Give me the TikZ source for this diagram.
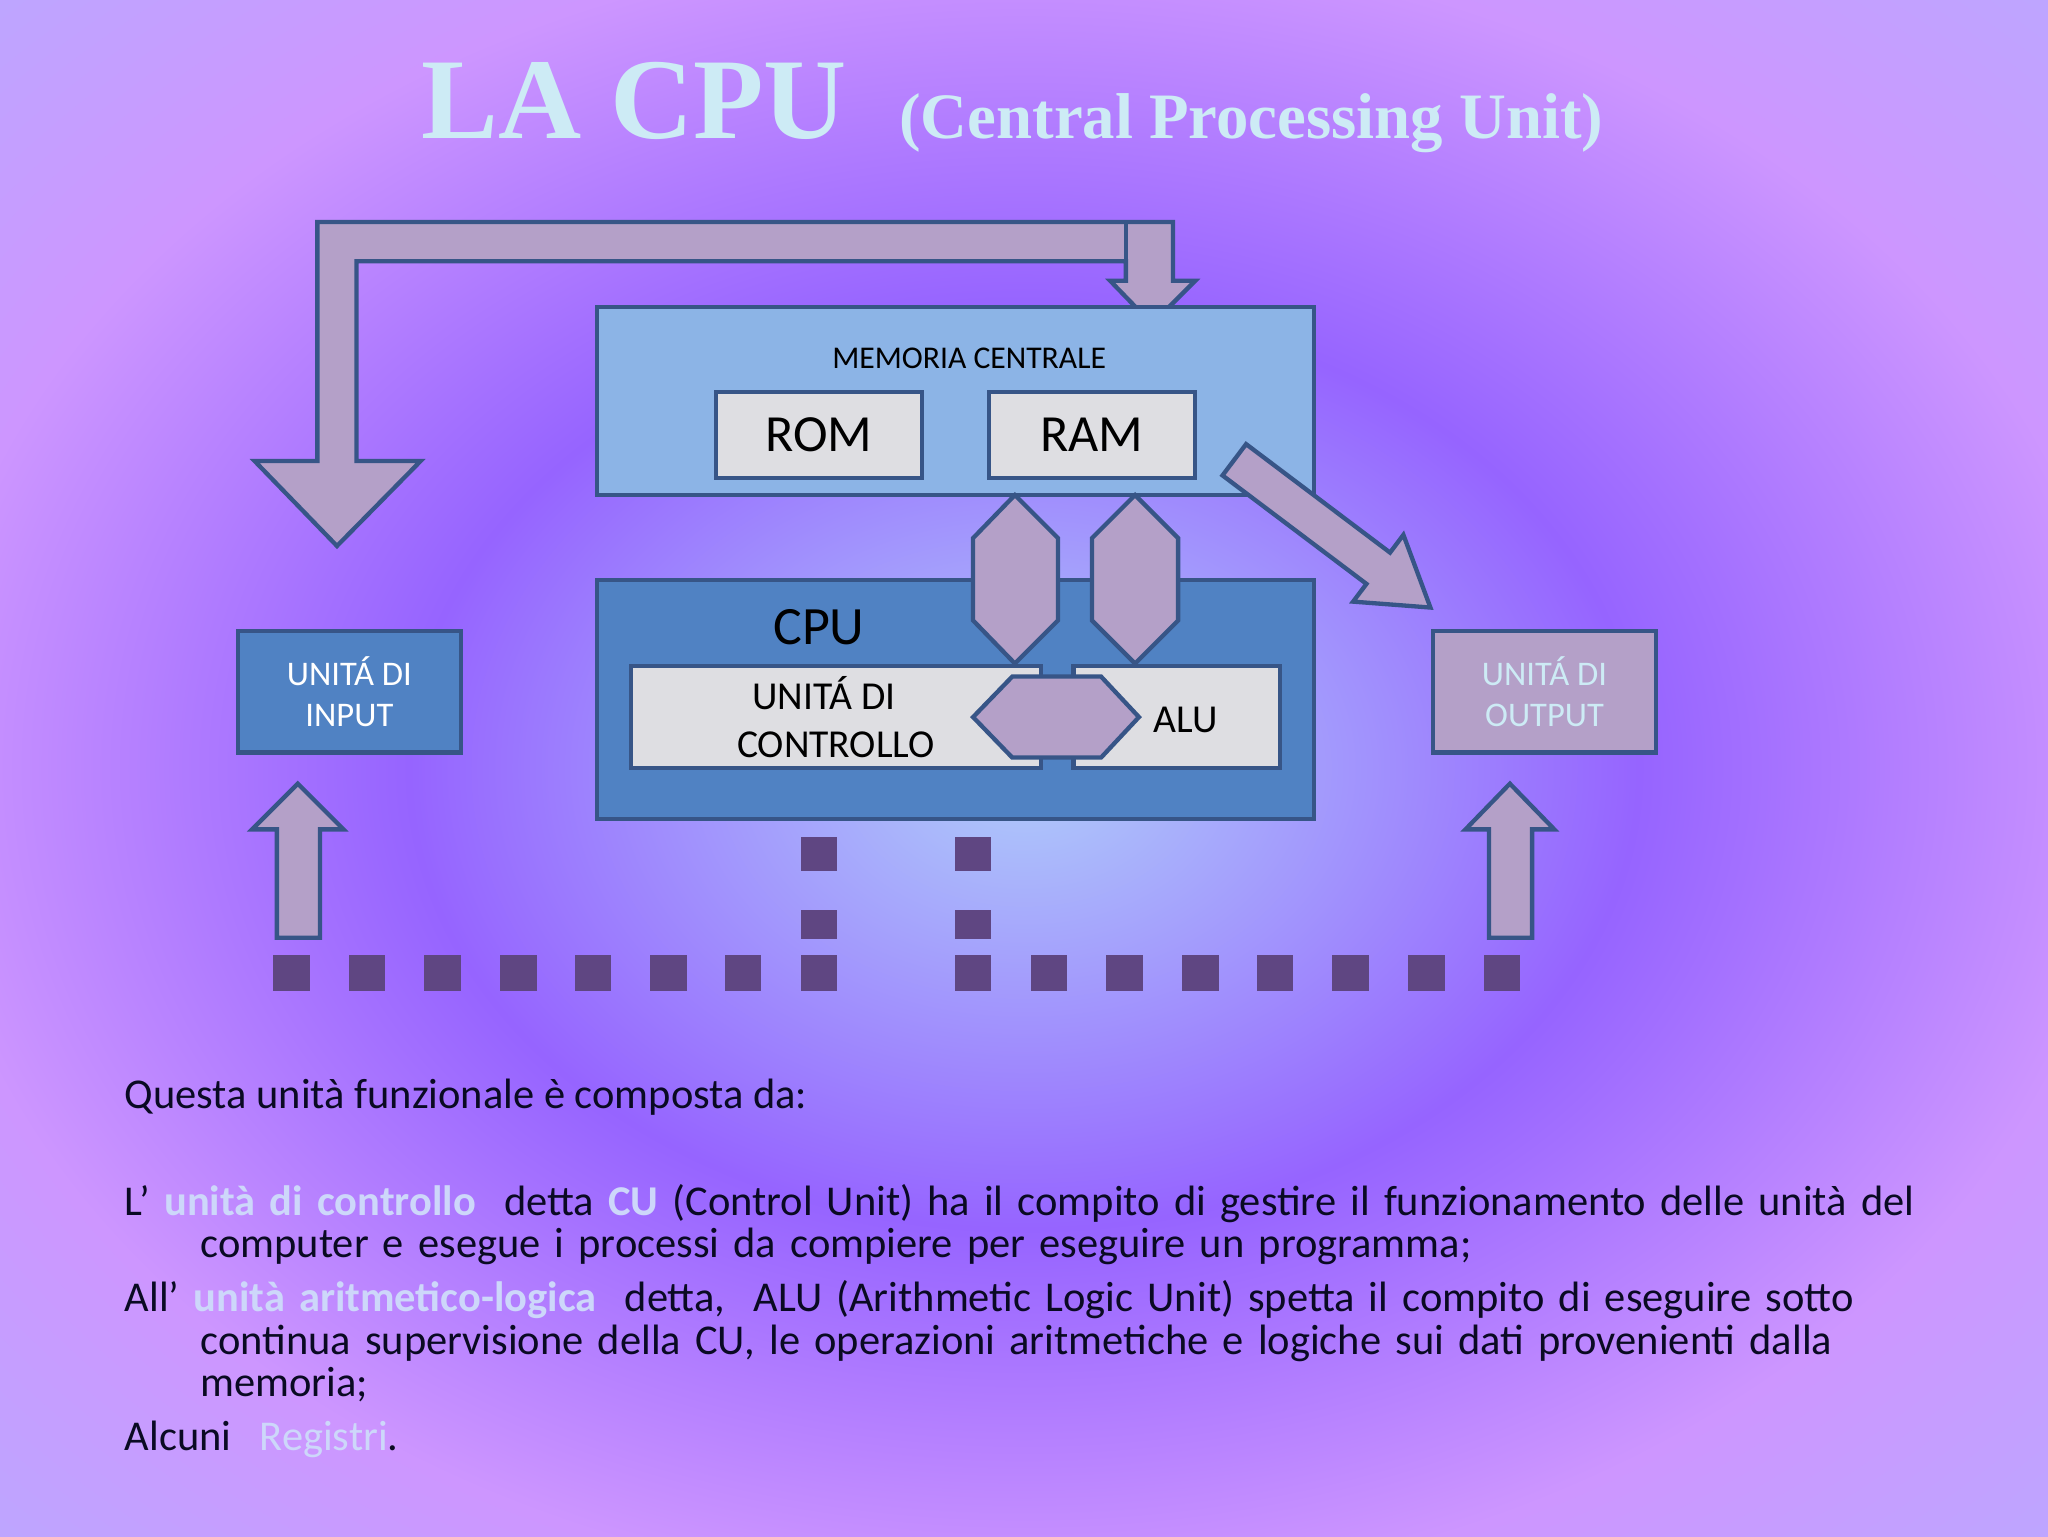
\documentclass[tikz,border=0pt]{standalone}
\usepackage{fontspec}
\setmainfont{Carlito}
\newfontfamily\titlefont{Liberation Serif}
\usetikzlibrary{positioning,shapes}
\definecolor{bgcenter}{RGB}{175,205,250}
\definecolor{bgviolet}{RGB}{150,100,255}
\definecolor{bgpink}{RGB}{205,150,255}
\definecolor{bgedge}{RGB}{150,205,255}
\definecolor{memfill}{RGB}{140,180,230}
\definecolor{cpufill}{RGB}{80,130,195}
\definecolor{edgeblue}{RGB}{55,85,135}
\definecolor{greyfill}{RGB}{222,222,226}
\definecolor{lav}{RGB}{180,160,200}
\definecolor{dots}{RGB}{95,70,130}
\definecolor{titlecol}{RGB}{205,235,245}
\definecolor{hilite}{RGB}{205,215,250}
\definecolor{bodytext}{RGB}{10,10,35}
\pgfdeclareradialshading{slidebg}{\pgfpoint{0bp}{0bp}}{%
  color(0bp)=(bgcenter); color(6bp)=(bgcenter!60!bgviolet);
  color(15bp)=(bgviolet); color(27bp)=(bgpink); color(36bp)=(bgpink!70!bgedge);
  color(46bp)=(bgedge); color(75bp)=(bgedge)}
\newcommand{\uu}[1]{#1*0.01276cm}
\tikzstyle{box} = [rectangle, draw=edgeblue, line width=1.2pt, inner sep=0pt]
\tikzstyle{arr} = [draw=edgeblue, line width=1.2pt, fill=lav, line join=miter]
\tikzstyle{dot} = [fill=dots]

\begin{document}
\begin{tikzpicture}[x=0.01276cm,y=-0.01276cm]
  \useasboundingbox (0,0) rectangle (1568,1176);
  \shade[shading=slidebg] (0,0) rectangle (1568,1176);

  % title
  \node[anchor=base west,text=titlecol,inner sep=0pt] (title) at (322,106)
    {\titlefont\fontsize{32}{34}\selectfont\bfseries LA CPU};
  \node[anchor=base west,text=titlecol,inner sep=0pt] (subtitle) at (688,106)
    {\titlefont\fontsize{18}{22}\selectfont\bfseries (Central Processing Unit)};

  % feedback arrow
  \draw[arr] (243,170) -- (898,170) -- (898,215) -- (915,215) -- (882,248)
    -- (850,215) -- (862,215) -- (862,200) -- (273,200) -- (273,353)
    -- (322,353) -- (258,418) -- (195,353) -- (243,353) -- cycle;
  \draw[edgeblue,line width=1.2pt] (862,170) -- (862,200);

  % boxes
  \node[box,fill=memfill,minimum width=\uu{549},minimum height=\uu{144}] (mem) at (731.5,307) {};
  \node[font=\fontsize{8.8}{10}\selectfont] (memlabel) at (742,274) {MEMORIA CENTRALE};
  \node[box,fill=greyfill,minimum width=\uu{158},minimum height=\uu{66},font=\fontsize{14.5}{16}\selectfont] (rom) at (627,333) {ROM};
  \node[box,fill=greyfill,minimum width=\uu{158},minimum height=\uu{66},font=\fontsize{14.5}{16}\selectfont] (ram) at (836,333) {RAM};

  \node[box,fill=cpufill,minimum width=\uu{549},minimum height=\uu{183}] (cpu) at (731.5,535.5) {};
  \node[font=\fontsize{15}{16}\selectfont] (cpulabel) at (627,480) {CPU};
  \node[box,fill=greyfill,minimum width=\uu{314},minimum height=\uu{78},align=center,
        font=\fontsize{11}{13.4}\selectfont] (cu) at (640,549) {\hspace*{-0.6em}UNITÁ DI\\CONTROLLO};
  \node[box,fill=greyfill,minimum width=\uu{158},minimum height=\uu{78}] (alubox) at (901,549) {};
  \node[font=\fontsize{11}{13}\selectfont] (alu) at (908,551) {ALU};

  \node[box,fill=cpufill,minimum width=\uu{171},minimum height=\uu{93},align=center,text=white,
        font=\fontsize{9.6}{11.3}\selectfont] (input) at (267.5,529.5) {UNITÁ DI\\INPUT};
  \node[box,fill=lav,minimum width=\uu{171},minimum height=\uu{93},align=center,text=titlecol,
        font=\fontsize{9.6}{11.3}\selectfont] (output) at (1182.5,529.5) {UNITÁ DI\\OUTPUT};

  % bus connectors
  \draw[arr] (745,549) -- (775,518) -- (843,518) -- (872,549) -- (843,580) -- (775,580) -- cycle;
  \draw[arr] (777,379) -- (810,412) -- (810,475) -- (777,508) -- (745,475) -- (745,412) -- cycle;
  \draw[arr] (869,379) -- (902,412) -- (902,475) -- (869,508) -- (836,475) -- (836,412) -- cycle;

  % RAM to output
  \begin{scope}[shift={(945,352)},rotate=-37]
    \draw[arr] (0,15) -- (138,15) -- (138,32) -- (188,0) -- (138,-32) -- (138,-15) -- (0,-15) -- cycle;
  \end{scope}

  % up arrows
  \draw[arr] (212,718) -- (212,635) -- (193,635) -- (228,600) -- (263,635) -- (245,635) -- (245,718) -- cycle;
  \draw[arr] (1140,718) -- (1140,635) -- (1122,635) -- (1156,600) -- (1190,635) -- (1173,635) -- (1173,718) -- cycle;

  % dotted bus
  \foreach \x in {223,281,339,397,454,512,569,627,745,803,861,919,976,1034,1092,1150}
    \fill[dot] (\x-14,731) rectangle (\x+14,759);
  \foreach \x in {627,745} {
    \fill[dot] (\x-14,641) rectangle (\x+14,667);
    \fill[dot] (\x-14,697) rectangle (\x+14,719);
  }

  % text
  \node[anchor=base west,inner sep=0pt,text=bodytext,font=\fontsize{11.8}{12}\selectfont] (intro) at (95,849)
    {Questa unità funzionale è composta da:};
  \node[anchor=north west,inner sep=0pt,text=bodytext,text width=17.58cm,
        font=\fontsize{11.8}{11.7}\selectfont] (body) at (95,906) {%
    \hyphenpenalty=10000\exhyphenpenalty=10000\tolerance=9999
    \hangindent=0.74cm\hangafter=1 L’ {\bfseries\color{hilite}unità di controllo}\ \ detta {\bfseries\color{hilite}CU} (Control Unit) ha il compito di gestire il funzionamento delle unità del computer e esegue i processi da compiere per eseguire un programma;\par
    \vspace{3.5pt}
    \hangindent=0.74cm\hangafter=1 All’ {\bfseries\color{hilite}unità aritmetico-logica}\ \ detta,\ \ ALU (Arithmetic Logic Unit) spetta il compito di eseguire sotto continua supervisione della CU, le operazioni aritmetiche e logiche sui dati provenienti dalla memoria;\par
    \vspace{3.5pt}
    Alcuni\ \ {\color{hilite}Registri}.\par};
\end{tikzpicture}
\end{document}
